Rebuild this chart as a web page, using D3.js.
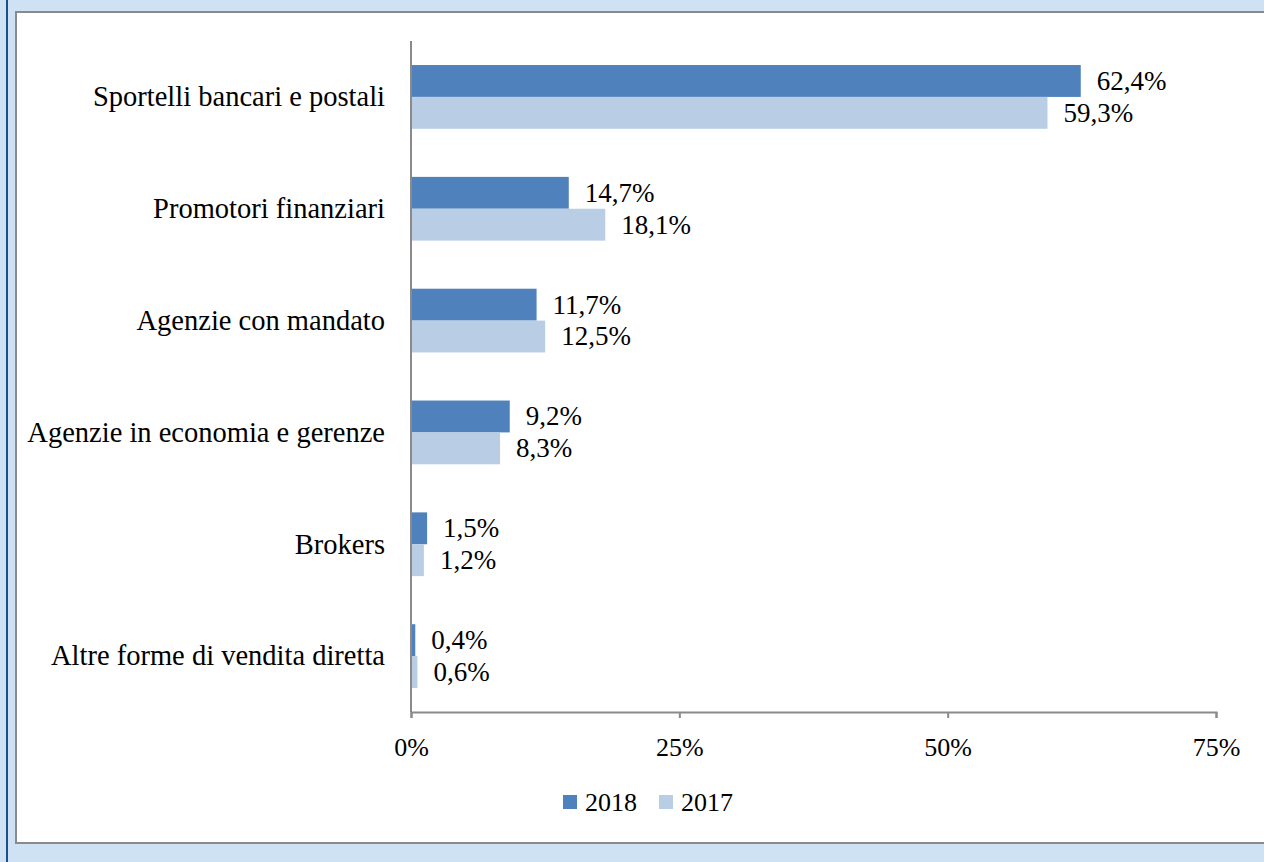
<!DOCTYPE html>
<html>
<head>
<meta charset="utf-8">
<script src="https://cdn.jsdelivr.net/npm/d3@7"></script>
<style>
  html, body { margin: 0; padding: 0; background: #cfe2f3; }
  svg { display: block; }
  text { font-family: "Liberation Serif", "Times New Roman", serif; fill: #000; }
</style>
</head>
<body>
<svg id="chart" width="1264" height="862"></svg>
<script>
const categories = [
  "Sportelli bancari e postali",
  "Promotori finanziari",
  "Agenzie con mandato",
  "Agenzie in economia e gerenze",
  "Brokers",
  "Altre forme di vendita diretta"
];
const series = ["2018", "2017"];
const values2018 = [62.4, 14.7, 11.7, 9.2, 1.5, 0.4];
const values2017 = [59.3, 18.1, 12.5, 8.3, 1.2, 0.6];
const xTicks = [0, 25, 50, 75];

const colors = { "2018": "#4f81bd", "2017": "#b9cde5" };
const fs = "26px";

const svg = d3.select("#chart");

// background frame
svg.append("rect").attr("x", 0).attr("y", 0).attr("width", 1264).attr("height", 862).attr("fill", "#cfe2f3");
svg.append("line").attr("x1", 7).attr("x2", 7).attr("y1", 0).attr("y2", 862)
   .attr("stroke", "#1f4e8c").attr("stroke-width", 2);
svg.append("rect").attr("x", 16).attr("y", 12).attr("width", 1260).attr("height", 831)
   .attr("fill", "#fff").attr("stroke", "#8a8a8a").attr("stroke-width", 2);

const m = { left: 411, right: 1216, top: 41, bottom: 712 };

const x = d3.scaleLinear().domain([0, 75]).range([m.left, m.right]);
const y = d3.scaleBand().domain(categories).range([m.top, m.bottom]).paddingInner(0.43).paddingOuter(0.215);
const ySub = d3.scaleBand().domain(series).range([0, y.bandwidth()]);

const rows = categories.map((c, i) => ({ cat: c, vals: [
  { s: "2018", v: values2018[i] },
  { s: "2017", v: values2017[i] }
]}));

const fmt = v => d3.format(".1f")(v).replace(".", ",") + "%";

const g = svg.append("g");

const row = g.selectAll(".row").data(rows).enter().append("g")
  .attr("transform", d => `translate(0,${y(d.cat)})`);

row.selectAll("rect").data(d => d.vals).enter().append("rect")
  .attr("x", x(0))
  .attr("y", d => ySub(d.s))
  .attr("width", d => x(d.v) - x(0))
  .attr("height", ySub.bandwidth())
  .attr("fill", d => colors[d.s]);

row.selectAll(".lbl").data(d => d.vals).enter().append("text")
  .attr("class", "lbl")
  .attr("x", d => x(d.v) + 16)
  .attr("y", d => ySub(d.s) + ySub.bandwidth() / 2)
  .attr("dy", "0.33em")
  .style("font-size", "27px")
  .text(d => fmt(d.v));

// category labels
g.selectAll(".cat").data(categories).enter().append("text")
  .attr("x", m.left - 26)
  .attr("y", d => y(d) + y.bandwidth() / 2)
  .attr("dy", "0.33em")
  .attr("text-anchor", "end")
  .style("font-size", "28.5px")
  .text(d => d);

// x axis
const xAxis = g.append("g").attr("transform", `translate(0,${m.bottom})`)
  .call(d3.axisBottom(x).tickValues(xTicks).tickSize(6).tickFormat(d => d + "%"));
xAxis.attr("font-family", null).attr("font-size", null);
xAxis.select(".domain").attr("stroke", "#8a8a8a").attr("stroke-width", 2);
xAxis.selectAll(".tick line").attr("stroke", "#8a8a8a").attr("stroke-width", 2);
xAxis.selectAll(".tick text").attr("dy", 0).attr("y", 44)
  .style("font-size", fs);

// y axis line
g.append("line").attr("x1", m.left).attr("x2", m.left).attr("y1", m.top).attr("y2", m.bottom)
  .attr("stroke", "#8a8a8a").attr("stroke-width", 2);

// legend
const legend = g.selectAll(".legend").data(series).enter().append("g")
  .attr("transform", (d, i) => `translate(${563 + i * 96},795)`);
legend.append("rect").attr("width", 14).attr("height", 14).attr("fill", d => colors[d]);
legend.append("text").attr("x", 22).attr("y", 7).attr("dy", "0.35em")
  .style("font-size", fs).text(d => d);
</script>
</body>
</html>
